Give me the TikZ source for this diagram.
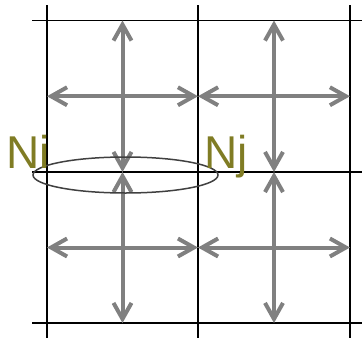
\documentclass[tikz,border=0pt]{standalone}
\usepackage{fontspec}
\setmainfont{Liberation Sans}
\usetikzlibrary{arrows.meta}
\definecolor{olive}{RGB}{128,124,36}
\definecolor{arrgray}{RGB}{128,128,128}
\definecolor{ring}{RGB}{64,64,64}

\begin{document}
\begin{tikzpicture}[x=1pt,y=-1pt, gridline/.style={draw=black,line width=1.8pt}, flow/.style={{Straight Barb[length=16pt,width=18pt]}-{Straight Barb[length=16pt,width=18pt]},draw=arrgray,line width=4pt}, site/.style={font=\fontsize{46}{46}\selectfont,text=olive,inner sep=0pt,anchor=base west}, pairring/.style={draw=ring,line width=1.5pt}]
\useasboundingbox (0,0) rectangle (362,338);
% grid of cells
\foreach \x in {47,198,350} \draw[gridline] (\x,5) -- (\x,338);
\foreach \y in {20.5,172,323} \draw[gridline] (32,\y) -- (362,\y);
% four-way moves in every cell
\foreach \l/\r/\t/\b/\n in {47/198/20.5/172/a, 198/350/20.5/172/b, 47/198/172/323/c, 198/350/172/323/d}{
  \coordinate (\n-w) at (\l,{(\t+\b)/2});
  \coordinate (\n-e) at (\r,{(\t+\b)/2});
  \coordinate (\n-n) at ({(\l+\r)/2},\t);
  \coordinate (\n-s) at ({(\l+\r)/2},\b);
  \draw[flow] (\n-w) -- (\n-e);
  \draw[flow] (\n-n) -- (\n-s);
}
% neighbour pair
\draw[pairring] (125.5,175) ellipse (92.5 and 18);
\node[site] (ni) at (6.5,168) {Ni};
\node[site] (nj) at (204.5,168) {Nj};
\end{tikzpicture}
\end{document}
